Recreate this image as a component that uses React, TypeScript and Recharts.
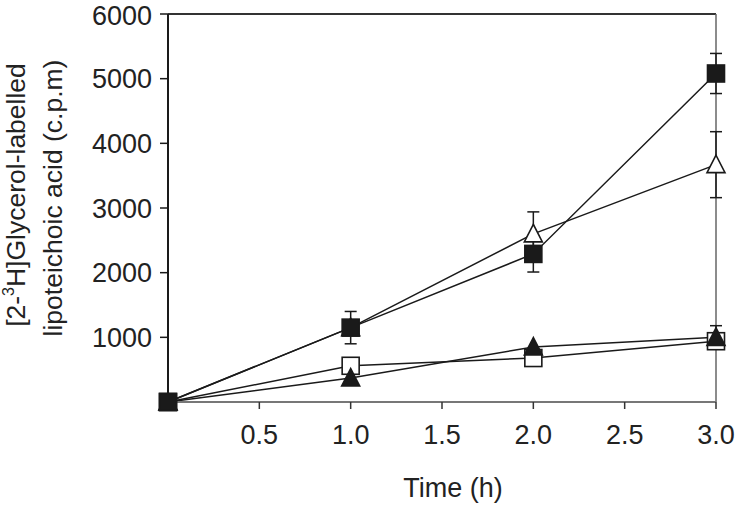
import React from 'react';
import { ComposedChart, Line, XAxis, YAxis, ErrorBar, ReferenceLine } from 'recharts';

const times = [0, 1, 2, 3];
const filledSquare = [0, 1150, 2290, 5080];
const filledSquareErr = [0, 250, 280, 310];
const openTriangle = [0, 1150, 2600, 3670];
const openTriangleErr = [0, 0, 340, 510];
const openSquare = [0, 560, 680, 940];
const filledTriangle = [0, 370, 850, 1000];
const filledTriangleErr: (number | null)[] = [null, null, null, 180];
const xTicks = [0.5, 1, 1.5, 2, 2.5, 3];
const yTicks = [1000, 2000, 3000, 4000, 5000, 6000];

const data = times.map((t, i) => ({
  t,
  fs: filledSquare[i],
  fsErr: filledSquareErr[i],
  ot: openTriangle[i],
  otErr: openTriangleErr[i],
  os: openSquare[i],
  ft: filledTriangle[i],
  ftErr: filledTriangleErr[i],
}));

const FONT = '"Liberation Sans", Arial, sans-serif';
const INK = '#1a1a1a';

const square = (fill: string) => (props: any) => {
  const { cx, cy, index } = props;
  if (cx == null || cy == null) return <g key={`s${index}`} />;
  const h = 8.5;
  return (
    <rect key={`s${index}`} x={cx - h} y={cy - h} width={2 * h} height={2 * h} fill={fill} stroke={INK} strokeWidth={1.6} />
  );
};

const triangle = (fill: string) => (props: any) => {
  const { cx, cy, index } = props;
  if (cx == null || cy == null) return <g key={`t${index}`} />;
  return (
    <polygon
      key={`t${index}`}
      points={`${cx},${cy - 9.5} ${cx - 9},${cy + 8} ${cx + 9},${cy + 8}`}
      fill={fill}
      stroke={INK}
      strokeWidth={1.6}
      strokeLinejoin="miter"
    />
  );
};

const YLabel = () => (
  <g fontFamily={FONT} fontSize={26.5} fill="#222">
    <text transform="translate(25,195) rotate(-90)" textAnchor="middle">
      <tspan>[2-</tspan>
      <tspan dy={-11} fontSize={16}>3</tspan>
      <tspan dy={11}>H]Glycerol-labelled</tspan>
    </text>
    <text transform="translate(62,198) rotate(-90)" textAnchor="middle">
      lipoteichoic acid (c.p.m)
    </text>
  </g>
);

const XLabel = () => (
  <text x={453} y={497} textAnchor="middle" fontFamily={FONT} fontSize={27} fill="#222">
    Time (h)
  </text>
);

export default function App() {
  return (
    <div style={{ position: 'absolute', left: 0, top: 0, background: '#fff' }}>
      <ComposedChart width={739} height={507} data={data} margin={{ top: 14, right: 23, bottom: 0, left: 0 }}>
        <XAxis
          dataKey="t"
          type="number"
          domain={[0, 3]}
          ticks={xTicks}
          tickFormatter={(v: number) => v.toFixed(1)}
          height={105}
          tickSize={7}
          tickMargin={16}
          axisLine={{ stroke: '#777', strokeWidth: 2 }}
          tickLine={{ stroke: '#333', strokeWidth: 1.5 }}
          tick={{ fontSize: 27, fontFamily: FONT, fill: '#222' }}
          label={<XLabel />}
        />
        <YAxis
          type="number"
          domain={[0, 6000]}
          ticks={yTicks}
          width={168}
          tickSize={8}
          tickMargin={8}
          axisLine={{ stroke: INK, strokeWidth: 2 }}
          tickLine={{ stroke: INK, strokeWidth: 1.5 }}
          tick={{ fontSize: 27, fontFamily: FONT, fill: '#222' }}
          label={<YLabel />}
        />
        <ReferenceLine y={6000} stroke="#333" strokeWidth={1.8} />
        <ReferenceLine x={3} stroke="#666" strokeWidth={1.5} />
        <Line type="linear" dataKey="os" stroke={INK} strokeWidth={1.5} dot={square('#fff')} isAnimationActive={false} />
        <Line type="linear" dataKey="ft" stroke={INK} strokeWidth={1.5} dot={triangle(INK)} isAnimationActive={false}>
          <ErrorBar dataKey="ftErr" width={6} stroke={INK} strokeWidth={1.5} direction="y" />
        </Line>
        <Line type="linear" dataKey="ot" stroke={INK} strokeWidth={1.5} dot={triangle('#fff')} isAnimationActive={false}>
          <ErrorBar dataKey="otErr" width={6} stroke={INK} strokeWidth={1.5} direction="y" />
        </Line>
        <Line type="linear" dataKey="fs" stroke={INK} strokeWidth={1.5} dot={square(INK)} isAnimationActive={false}>
          <ErrorBar dataKey="fsErr" width={6} stroke={INK} strokeWidth={1.5} direction="y" />
        </Line>
      </ComposedChart>
    </div>
  );
}
